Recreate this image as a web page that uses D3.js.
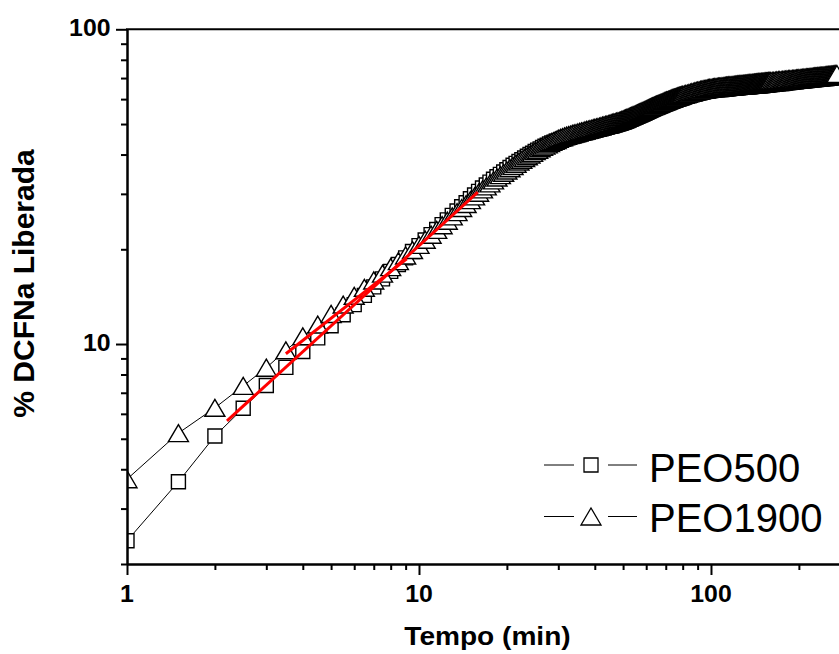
<!DOCTYPE html>
<html>
<head>
<meta charset="utf-8">
<script src="https://cdn.jsdelivr.net/npm/d3@7"></script>
<style>
  html, body { margin: 0; padding: 0; background: #fff; }
  svg { display: block; font-family: "Liberation Sans", Arial, Helvetica, sans-serif; }
</style>
</head>
<body>
<svg id="chart" width="839" height="654"></svg>
<script>
// Sampling times (min)
const tempo = [
  1,1.5,2,2.5,3,3.5,4,4.5,5,5.5,6,6.5,7,7.5,8,8.5,9,9.5,10,10.5,
  11,11.5,12,12.5,13,13.5,14,14.5,15,15.5,16,16.5,17,17.5,18,18.5,19,19.5,20,20.5,
  21,21.5,22,22.5,23,23.5,24,24.5,25,25.5,26,26.5,27,27.5,28,28.5,29,29.5,30,
  30.5,31,31.5,32,32.5,33,33.5,34,34.5,35,35.5,36,36.5,37,37.5,38,38.5,39,39.5,40,
  40.5,41,41.5,42,42.5,43,43.5,44,44.5,45,45.5,46,46.5,47,47.5,48,48.5,49,49.5,50,
  50.5,51,51.5,52,52.5,53,53.5,54,54.5,55,55.5,56,56.5,57,57.5,58,58.5,59,59.5,60,
  60.5,61,61.5,62,62.5,63,63.5,64,64.5,65,65.5,66,66.5,67,67.5,68,68.5,69,69.5,70,
  70.5,71,71.5,72,72.5,73,73.5,74,74.5,75,75.5,76,76.5,77,77.5,78,78.5,79,79.5,80,
  81,82,83,84,85,86,87,88,89,90,91,92,93,94,95,96,97,98,99,100,
  101,102,103,104,105,106,107,108,109,110,111,112,113,114,115,116,117,118,119,120,
  121,122,123,124,125,126,127,128,129,130,131,132,133,134,135,136,137,138,139,140,
  141,142,143,144,145,146,147,148,149,150,151,152,153,154,155,156,157,158,159,160,
  162,164,166,168,170,
  172,174,176,178,180,182,184,186,188,190,192,194,196,198,200,202,204,206,208,210,
  212,214,216,218,220,222,224,226,228,230,232,234,236,238,240,242,244,246,248,250,
  252,254,256,258,260,262,264,266,268,270
];

// % DCFNa liberada, PEO500
const peo500 = [
  2.37,3.65,5.10,6.25,7.38,8.43,9.47,10.46,11.43,12.39,13.34,14.27,15.19,16.11,17.01,17.90,18.78,19.67,20.54,21.40,
  22.26,23.11,23.96,24.80,25.63,26.46,27.29,28.11,28.93,29.74,30.55,31.3,32.0,32.7,33.4,34.0,34.6,35.2,35.8,36.4,
  37.0,37.5,38.0,38.5,39.0,39.5,40.0,40.4,40.9,41.3,41.7,42.1,42.5,42.8,43.2,43.5,43.8,44.1,44.3,
  44.6,44.8,45.0,45.2,45.4,45.6,45.8,45.9,46.1,46.2,46.4,46.6,46.7,46.9,47.1,47.2,47.3,47.5,47.7,47.8,
  48.0,48.1,48.2,48.4,48.5,48.6,48.8,48.9,49.1,49.2,49.3,49.4,49.6,49.7,49.9,50.0,50.2,50.3,50.5,50.7,
  50.8,51.0,51.2,51.4,51.6,51.8,52.0,52.2,52.4,52.6,52.8,53.0,53.2,53.4,53.6,53.8,54.0,54.2,54.4,54.6,
  54.8,55.0,55.2,55.4,55.6,55.8,55.9,56.1,56.3,56.5,56.6,56.8,57.0,57.2,57.3,57.5,57.6,57.8,58.0,58.1,
  58.3,58.4,58.6,58.7,58.9,59.0,59.1,59.3,59.4,59.6,59.7,59.8,60.0,60.1,60.2,60.3,60.5,60.6,60.7,60.8,
  61.0,61.2,61.4,61.6,61.8,62.0,62.2,62.3,62.5,62.7,62.8,63.0,63.1,63.2,63.4,63.5,63.6,63.7,63.8,63.9,
  64.0,64.1,64.1,64.2,64.2,64.3,64.3,64.4,64.4,64.5,64.5,64.6,64.6,64.7,64.7,64.8,64.9,64.9,65.0,65.0,
  65.1,65.1,65.2,65.2,65.3,65.3,65.4,65.4,65.5,65.5,65.5,65.6,65.6,65.7,65.7,65.7,65.8,65.8,65.9,65.9,
  65.9,66.0,66.0,66.1,66.1,66.1,66.2,66.2,66.3,66.3,66.3,66.4,66.4,66.5,66.5,66.5,66.6,66.6,66.7,66.7,
  66.8,66.9,66.9,67.0,67.1,
  67.2,67.3,67.3,67.4,67.5,67.6,67.7,67.7,67.8,67.9,68.0,68.1,68.1,68.2,68.3,68.3,68.4,68.5,68.5,68.6,
  68.7,68.7,68.8,68.9,68.9,69.0,69.1,69.1,69.2,69.2,69.3,69.4,69.4,69.5,69.5,69.6,69.7,69.7,69.8,69.8,
  69.9,70.0,70.0,70.1,70.1,70.2,70.2,70.3,70.3,70.4
];

// % DCFNa liberada, PEO1900
const peo1900 = [
  3.72,5.21,6.27,7.36,8.41,9.55,10.58,11.53,12.46,13.35,14.23,15.09,15.92,16.74,17.55,18.34,19.12,19.89,20.66,21.45,
  22.25,23.05,23.85,24.65,25.45,26.25,27.05,27.85,28.65,29.45,30.25,31.0,31.7,32.4,33.1,33.8,34.4,35.0,35.6,36.2,
  36.8,37.4,38.0,38.5,39.0,39.5,40.0,40.5,41.0,41.4,41.9,42.3,42.7,43.1,43.5,43.9,44.2,44.5,44.9,
  45.2,45.4,45.7,45.9,46.1,46.3,46.5,46.7,46.8,47.0,47.2,47.4,47.5,47.7,47.9,48.0,48.2,48.3,48.5,48.6,
  48.8,48.9,49.1,49.2,49.4,49.5,49.7,49.8,50.0,50.1,50.3,50.4,50.6,50.7,50.9,51.0,51.2,51.3,51.5,51.7,
  51.9,52.1,52.3,52.5,52.7,52.9,53.1,53.3,53.5,53.7,53.9,54.1,54.3,54.5,54.7,54.9,55.1,55.3,55.5,55.7,
  55.9,56.1,56.3,56.5,56.7,56.9,57.0,57.2,57.4,57.6,57.7,57.9,58.1,58.3,58.4,58.6,58.7,58.9,59.1,59.2,
  59.4,59.5,59.7,59.8,60.0,60.1,60.3,60.4,60.6,60.7,60.8,60.9,61.1,61.2,61.3,61.4,61.6,61.7,61.8,61.9,
  62.1,62.3,62.5,62.7,62.9,63.1,63.3,63.5,63.7,63.9,64.0,64.2,64.3,64.5,64.6,64.7,64.9,65.0,65.1,65.2,
  65.3,65.4,65.5,65.5,65.6,65.7,65.8,65.8,65.9,66.0,66.0,66.1,66.2,66.2,66.3,66.4,66.4,66.5,66.5,66.6,
  66.7,66.7,66.8,66.8,66.9,66.9,67.0,67.0,67.1,67.1,67.2,67.2,67.3,67.3,67.4,67.4,67.5,67.5,67.6,67.6,
  67.7,67.7,67.8,67.8,67.9,67.9,68.0,68.0,68.1,68.1,68.1,68.2,68.2,68.3,68.3,68.3,68.4,68.4,68.5,68.5,
  68.6,68.6,68.7,68.8,68.9,
  68.9,69.0,69.1,69.2,69.2,69.3,69.4,69.4,69.5,69.6,69.6,69.7,69.8,69.8,69.9,70.0,70.0,70.1,70.2,70.2,
  70.3,70.4,70.4,70.5,70.6,70.6,70.7,70.8,70.8,70.9,71.0,71.0,71.1,71.2,71.2,71.3,71.3,71.4,71.5,71.5,
  71.6,71.6,71.7,71.8,71.8,71.9,71.9,72.0,72.1,72.1
];

// Power-law fits over the initial release period (end points of each fitted segment)
const fitPEO500Tempo = [2.2, 15.9];
const fitPEO500Valor = [5.70, 30.4];
const fitPEO1900Tempo = [3.5, 9.08];
const fitPEO1900Valor = [9.31, 18.65];

// Axis ticks
const xMajorTicks = [1, 10, 100];
const xMinorTicks = [2,3,4,5,6,7,8,9,20,30,40,50,60,70,80,90,200,300];
const yMajorTicks = [10, 100];
const yMinorTicks = [2,3,4,5,6,7,8,9,20,30,40,50,60,70,80,90];

const seriesNames = ["PEO500", "PEO1900"];
const xTitle = "Tempo (min)";
const yTitle = "% DCFNa Liberada";

// ---------------------------------------------------------------
(function () {
  const svg = d3.select("#chart");
  const mLeft = 127, mTop = 29.3, mBottom = 564, mRight = 850.3;

  const x = d3.scaleLog().domain([1, 300]).range([mLeft, mRight]);
  const y = d3.scaleLog().domain([2, 100]).range([mBottom, mTop]);

  svg.append("defs").append("clipPath").attr("id", "plotClip")
    .append("rect").attr("x", mLeft).attr("y", mTop)
    .attr("width", mRight - mLeft).attr("height", mBottom - mTop);

  const plot = svg.append("g").attr("clip-path", "url(#plotClip)");

  const squarePath = "M-7,-7H7V7H-7Z";
  const trianglePath = "M0,-8.5L10,8.5H-10Z";

  function drawSeries(values, path) {
    const pts = tempo.map((t, i) => [t, values[i]]);
    plot.append("path")
      .datum(pts)
      .attr("fill", "none")
      .attr("stroke", "#000")
      .attr("stroke-width", 1)
      .attr("d", d3.line().x(d => x(d[0])).y(d => y(d[1])));
    plot.append("g").selectAll("path")
      .data(pts)
      .join("path")
      .attr("transform", d => `translate(${x(d[0])},${y(d[1])})`)
      .attr("d", path)
      .attr("fill", "#fff")
      .attr("stroke", "#000")
      .attr("stroke-width", 1.4);
  }

  drawSeries(peo500, squarePath);
  drawSeries(peo1900, trianglePath);

  // Fitted lines
  [[fitPEO500Tempo, fitPEO500Valor], [fitPEO1900Tempo, fitPEO1900Valor]].forEach(([ts, vs]) => {
    plot.append("path")
      .datum(ts.map((t, i) => [t, vs[i]]))
      .attr("fill", "none")
      .attr("stroke", "#ff0000")
      .attr("stroke-width", 3)
      .attr("d", d3.line().x(d => x(d[0])).y(d => y(d[1])));
  });

  // Axes
  function styleAxis(g) {
    g.selectAll(".domain").attr("stroke", "#000").attr("stroke-width", 2);
    g.selectAll(".tick line").attr("stroke", "#000").attr("stroke-width", 2);
    g.selectAll(".tick text").remove();
  }

  svg.append("g").attr("transform", `translate(0,${mBottom})`)
    .call(d3.axisBottom(x).tickValues(xMinorTicks).tickSize(6).tickSizeOuter(0).tickFormat(""))
    .call(styleAxis);
  svg.append("g").attr("transform", `translate(0,${mBottom})`)
    .call(d3.axisBottom(x).tickValues(xMajorTicks).tickSize(11).tickSizeOuter(0).tickFormat(""))
    .call(styleAxis);
  svg.append("g").attr("transform", `translate(${mLeft},0)`)
    .call(d3.axisLeft(y).tickValues(yMinorTicks).tickSize(6).tickSizeOuter(0).tickFormat(""))
    .call(styleAxis);
  svg.append("g").attr("transform", `translate(${mLeft},0)`)
    .call(d3.axisLeft(y).tickValues(yMajorTicks).tickSize(11).tickSizeOuter(0).tickFormat(""))
    .call(styleAxis);

  // top frame line
  svg.append("line")
    .attr("x1", mLeft - 1).attr("x2", mRight).attr("y1", mTop).attr("y2", mTop)
    .attr("stroke", "#000").attr("stroke-width", 2);

  // Tick labels
  svg.append("g").selectAll("text")
    .data(xMajorTicks)
    .join("text")
    .attr("transform", d => `translate(${x(d)},601.5) scale(1.08,1)`)
    .attr("text-anchor", "middle")
    .attr("font-size", 23)
    .attr("font-weight", "bold")
    .text(d => d3.format("d")(d));

  svg.append("g").selectAll("text")
    .data(yMajorTicks)
    .join("text")
    .attr("transform", d => `translate(110.5,${y(d) + 7}) scale(1.08,1)`)
    .attr("text-anchor", "end")
    .attr("font-size", 23)
    .attr("font-weight", "bold")
    .text(d => d3.format("d")(d));

  // Axis titles
  svg.append("text")
    .attr("transform", "translate(487.5,645) scale(1.08,1)")
    .attr("text-anchor", "middle")
    .attr("font-size", 26)
    .attr("font-weight", "bold")
    .text(xTitle);

  svg.append("text")
    .attr("transform", "translate(33.5,283.5) rotate(-90)")
    .attr("text-anchor", "middle")
    .attr("font-size", 30)
    .attr("font-weight", "bold")
    .text(yTitle);

  // Legend
  const legend = svg.append("g");
  const legendRows = [
    { name: seriesNames[0], path: squarePath, cy: 465, base: 481.7 },
    { name: seriesNames[1], path: trianglePath, cy: 516.5, base: 531.7 }
  ];
  legendRows.forEach(r => {
    legend.append("line").attr("x1", 544).attr("x2", 574).attr("y1", r.cy).attr("y2", r.cy)
      .attr("stroke", "#000").attr("stroke-width", 1);
    legend.append("line").attr("x1", 608).attr("x2", 637).attr("y1", r.cy).attr("y2", r.cy)
      .attr("stroke", "#000").attr("stroke-width", 1);
    legend.append("path").attr("transform", `translate(591,${r.cy})`).attr("d", r.path)
      .attr("fill", "#fff").attr("stroke", "#000").attr("stroke-width", 1.3);
    legend.append("text").attr("x", 649).attr("y", r.base)
      .attr("font-size", 40).text(r.name);
  });
})();
</script>
</body>
</html>
